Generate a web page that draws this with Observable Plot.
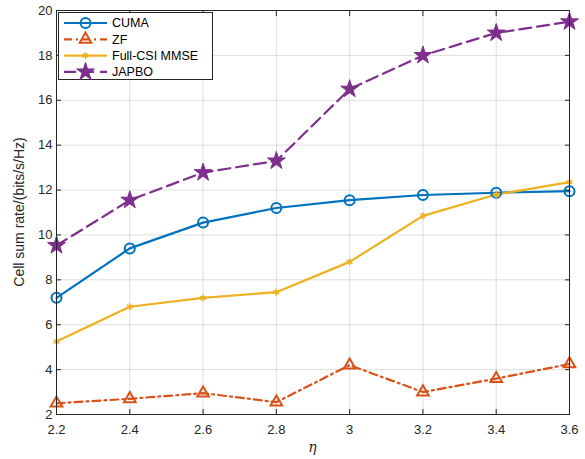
<!DOCTYPE html>
<html>
<head>
<meta charset="utf-8">
<script src="https://cdn.jsdelivr.net/npm/d3@7"></script>
<script src="https://cdn.jsdelivr.net/npm/@observablehq/plot@0.6"></script>
<style>
  html, body { margin: 0; padding: 0; background: #fff; }
  #chart svg { display: block; }
</style>
</head>
<body>
<div id="chart"></div>
<script>
const eta = [2.2, 2.4, 2.6, 2.8, 3.0, 3.2, 3.4, 3.6];
const cuma = [7.2, 9.4, 10.55, 11.2, 11.55, 11.78, 11.88, 11.95];
const zf = [2.5, 2.7, 2.95, 2.55, 4.2, 3.0, 3.6, 4.25];
const mmse = [5.25, 6.8, 7.2, 7.45, 8.8, 10.85, 11.8, 12.35];
const japbo = [9.53, 11.55, 12.78, 13.3, 16.5, 18.0, 19.0, 19.5];
const seriesNames = ["CUMA", "ZF", "Full-CSI MMSE", "JAPBO"];
const xTicks = [2.2, 2.4, 2.6, 2.8, 3.0, 3.2, 3.4, 3.6];
const yTicks = [2, 4, 6, 8, 10, 12, 14, 16, 18, 20];

const styles = {
  "CUMA": {color: "#0072BD", dash: null, symbol: "circle", r: 5, fill: "none", sw: 2},
  "ZF": {color: "#D95319", dash: "8,4,2,4", symbol: "triangle", r: 4.3, fill: "none", sw: 2},
  "Full-CSI MMSE": {color: "#EDB120", dash: null, symbol: "asterisk", r: 3.2, fill: "none", sw: 1.6},
  "JAPBO": {color: "#7E2F8E", dash: "12,6", symbol: "star", r: 5.6, fill: "#7E2F8E", sw: 1}
};
const values = [cuma, zf, mmse, japbo];
const data = seriesNames.map((s, i) => eta.map((x, j) => ({series: s, x, y: values[i][j]})));

const fmt = d => String(Math.round(d * 10) / 10);
const blank = () => "";
const font = "'Liberation Sans', Arial, Helvetica, sans-serif";

const marks = [
  Plot.gridX(xTicks, {stroke: "#000", strokeOpacity: 0.13}),
  Plot.gridY(yTicks, {stroke: "#000", strokeOpacity: 0.13}),
];
data.forEach(d => {
  const st = styles[d[0].series];
  marks.push(Plot.line(d, {x: "x", y: "y", stroke: st.color, strokeWidth: 2.2, strokeDasharray: st.dash}));
});
data.forEach(d => {
  const st = styles[d[0].series];
  marks.push(Plot.dot(d, {x: "x", y: "y", symbol: () => st.symbol, r: st.r, stroke: st.color, strokeWidth: st.sw, fill: st.fill}));
});
marks.push(
  Plot.frame({stroke: "#262626", strokeWidth: 1}),
  Plot.axisX(xTicks, {anchor: "bottom", tickSize: -5, tickFormat: blank, stroke: "#262626", label: null}),
  Plot.axisX(xTicks, {anchor: "top", tickSize: -5, tickFormat: blank, stroke: "#262626", label: null}),
  Plot.axisY(yTicks, {anchor: "left", tickSize: -5, tickFormat: blank, stroke: "#262626", label: null}),
  Plot.axisY(yTicks, {anchor: "right", tickSize: -5, tickFormat: blank, stroke: "#262626", label: null}),
  Plot.axisX(xTicks, {anchor: "bottom", tickSize: 0, tickPadding: 10, tickFormat: fmt, fontSize: 13, fill: "#262626", label: null}),
  Plot.axisY(yTicks, {anchor: "left", tickSize: 0, tickPadding: 4, tickFormat: fmt, fontSize: 13, fill: "#262626", label: null})
);

const chart = Plot.plot({
  width: 585,
  height: 459,
  marginLeft: 56,
  marginRight: 16,
  marginTop: 10,
  marginBottom: 45,
  style: {fontFamily: font, background: "#fff"},
  x: {domain: [2.2, 3.6], label: null},
  y: {domain: [2, 20], label: null},
  marks
});

const svg = d3.select(chart);
// axis labels
svg.append("text")
  .attr("x", 56 + (585 - 56 - 16) / 2).attr("y", 452)
  .attr("text-anchor", "middle")
  .attr("font-family", "'DejaVu Serif', 'Liberation Serif', serif")
  .attr("font-style", "italic").attr("font-size", 14).attr("fill", "#262626")
  .text("η");
svg.append("text")
  .attr("transform", `translate(24, ${10 + (459 - 45 - 10) / 2}) rotate(-90)`)
  .attr("text-anchor", "middle")
  .attr("font-family", font).attr("font-size", 14).attr("fill", "#262626")
  .text("Cell sum rate/(bits/s/Hz)");

// legend
const lg = svg.append("g");
lg.append("rect").attr("x", 58.5).attr("y", 12.5).attr("width", 154).attr("height", 67)
  .attr("fill", "#fff").attr("stroke", "#262626").attr("stroke-width", 1);
const symMap = {circle: d3.symbolCircle, triangle: d3.symbolTriangle, asterisk: d3.symbolAsterisk, star: d3.symbolStar};
seriesNames.forEach((s, i) => {
  const st = styles[s];
  const cy = 23 + i * 16.3;
  lg.append("line").attr("x1", 64).attr("x2", 107).attr("y1", cy).attr("y2", cy)
    .attr("stroke", st.color).attr("stroke-width", 2.2).attr("stroke-dasharray", st.dash);
  lg.append("path").attr("transform", `translate(85.5,${cy})`)
    .attr("d", d3.symbol(symMap[st.symbol], Math.PI * st.r * st.r)())
    .attr("fill", st.fill).attr("stroke", st.color).attr("stroke-width", st.sw);
  lg.append("text").attr("x", 112).attr("y", cy).attr("dy", "0.35em")
    .attr("text-anchor", "start")
    .attr("font-family", font).attr("font-size", 12.5).attr("fill", "#000").text(s);
});

document.getElementById("chart").appendChild(chart);
</script>
</body>
</html>
